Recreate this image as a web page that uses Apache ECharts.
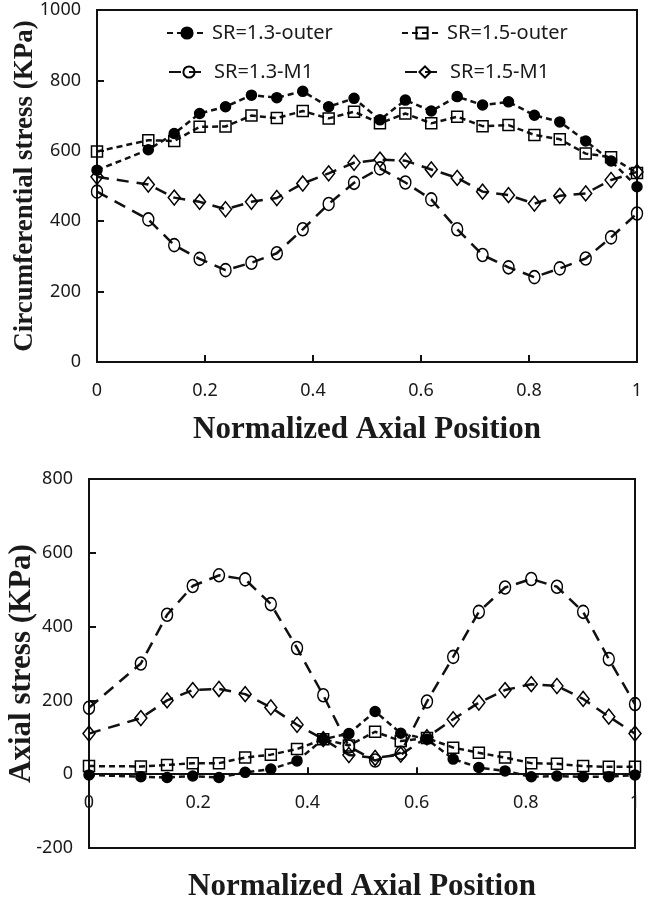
<!DOCTYPE html>
<html>
<head>
<meta charset="utf-8">
<script src="https://cdn.jsdelivr.net/npm/echarts@6/dist/echarts.min.js"></script>
<style>
  html, body { margin: 0; padding: 0; background: #fff; }
  #chart { width: 649px; height: 900px; }
</style>
</head>
<body>
<div id="chart"></div>
<script>
// Normalized axial positions (shared by all series)
var xPos = [0, 0.095, 0.143, 0.190, 0.238, 0.286, 0.333, 0.381, 0.429, 0.476, 0.524,
            0.571, 0.619, 0.667, 0.714, 0.762, 0.810, 0.857, 0.905, 0.952, 1];

var seriesNames = ['SR=1.3-outer', 'SR=1.5-outer', 'SR=1.3-M1', 'SR=1.5-M1'];

// Circumferential stress (KPa)
var circOuter13 = [545, 603, 649, 706, 725, 758, 751, 769, 725, 749, 688, 744, 713, 754, 730, 739, 701, 682, 628, 571, 498];
var circOuter15 = [598, 630, 628, 668, 669, 700, 693, 713, 692, 711, 678, 706, 678, 697, 670, 673, 645, 633, 592, 582, 537];
var circM113    = [484, 405, 332, 293, 261, 282, 309, 377, 449, 509, 550, 510, 462, 377, 304, 269, 241, 266, 294, 354, 422];
var circM115    = [526, 504, 467, 455, 434, 455, 466, 507, 536, 566, 575, 572, 547, 523, 484, 474, 450, 472, 479, 517, 540];

// Axial stress (KPa)
var axOuter13 = [-2, -7, -9, -5, -9, 5, 14, 36, 95, 110, 170, 111, 95, 41, 18, 9, -7, -5, -7, -7, -2];
var axOuter15 = [22, 21, 25, 30, 30, 45, 53, 68, 95, 78, 115, 90, 98, 72, 58, 45, 30, 28, 22, 20, 20];
var axM113    = [180, 300, 432, 510, 539, 528, 461, 342, 214, 75, 37, 58, 197, 318, 440, 506, 529, 508, 440, 312, 190];
var axM115    = [110, 152, 200, 228, 231, 217, 181, 134, 95, 52, 44, 53, 100, 149, 194, 228, 244, 239, 204, 156, 110];

// Axis settings
var xTicks = { min: 0, max: 1, interval: 0.2 };
var yTop = { min: 0, max: 1000, interval: 200 };
var yBottom = { min: -200, max: 800, interval: 200 };

function pairs(ys) { return xPos.map(function (x, i) { return [x, ys[i]]; }); }

var sansFont = '"Noto Sans", "Open Sans", sans-serif';
var serifFont = '"Liberation Serif", "DejaVu Serif", serif';
var ink = '#1a1a1a';

var grids = [
  { left: 97, right: 12, top: 10, height: 352 },
  { left: 89, right: 14, top: 479, height: 369 }
];
// the bottom chart's category axis sits on the zero line
var bottomZeroOffset = -grids[1].height * (0 - yBottom.min) / (yBottom.max - yBottom.min);

var styles = [
  { symbol: 'circle', symbolSize: 10, fill: '#000', dash: [6, 4] },
  { symbol: 'rect', symbolSize: 11, fill: 'rgba(255,255,255,0)', dash: [6, 4] },
  { symbol: 'circle', symbolSize: [11, 13], fill: 'rgba(255,255,255,0)', dash: [12, 8] },
  { symbol: 'diamond', symbolSize: [12, 15], fill: 'rgba(255,255,255,0)', dash: [12, 8] }
];

function makeSeries(idx, data, axisIdx) {
  var s = styles[idx];
  return {
    name: seriesNames[idx],
    type: 'line',
    xAxisIndex: axisIdx,
    yAxisIndex: axisIdx,
    data: pairs(data),
    symbol: s.symbol,
    symbolSize: s.symbolSize,
    showAllSymbol: true,
    itemStyle: { color: s.fill, borderColor: '#000', borderWidth: 1.5 },
    lineStyle: { color: '#111', width: 2.5, type: s.dash },
    z: 3
  };
}

function xAxisDef(gridIdx, nameGap, offset) {
  return {
    gridIndex: gridIdx, type: 'value',
    min: xTicks.min, max: xTicks.max, interval: xTicks.interval,
    offset: offset,
    axisLine: { onZero: false, lineStyle: { color: '#111', width: 2 } },
    axisTick: { inside: true, length: 7, lineStyle: { color: '#111', width: 2 } },
    axisLabel: { margin: 20, color: ink, fontFamily: sansFont, fontSize: 18,
                 formatter: function (v) { return String(+v.toFixed(1)); } },
    splitLine: { show: false },
    name: 'Normalized Axial Position', nameLocation: 'middle', nameGap: nameGap,
    nameMoveOverlap: false,
    nameTextStyle: { fontFamily: serifFont, fontWeight: 'bold', fontSize: 31, color: ink }
  };
}

function yAxisDef(gridIdx, range, name, nameSize, nameGap) {
  return {
    gridIndex: gridIdx, type: 'value',
    min: range.min, max: range.max, interval: range.interval,
    axisLine: { lineStyle: { color: '#111', width: 2 } },
    axisTick: { inside: true, length: 7, lineStyle: { color: '#111', width: 2 } },
    axisLabel: { margin: 16, color: ink, fontFamily: sansFont, fontSize: 18,
                 formatter: function (v) { return String(v); } },
    splitLine: { show: false },
    name: name, nameLocation: 'middle', nameGap: nameGap, nameRotate: 90,
    nameMoveOverlap: false,
    nameTextStyle: { fontFamily: serifFont, fontWeight: 'bold', fontSize: nameSize, color: ink }
  };
}

function legendDef(i, left, top) {
  return {
    data: [seriesNames[i]], left: left, top: top, padding: 0,
    itemWidth: 40, itemHeight: 14,
    textStyle: { fontFamily: sansFont, fontSize: 20, color: ink, lineHeight: 20 },
    selectedMode: false
  };
}

function gridDef(g) {
  return {
    left: g.left, right: g.right, top: g.top, height: g.height,
    show: true, borderColor: '#111', borderWidth: 2, backgroundColor: 'transparent',
    containLabel: false, outerBoundsMode: 'none'
  };
}

var option = {
  animation: false,
  backgroundColor: '#fff',
  grid: [gridDef(grids[0]), gridDef(grids[1])],
  legend: [
    legendDef(0, 166, 23),
    legendDef(1, 401, 23),
    legendDef(2, 168, 62),
    legendDef(3, 404, 62)
  ],
  xAxis: [xAxisDef(0, 52, 0), xAxisDef(1, 97, bottomZeroOffset)],
  yAxis: [
    yAxisDef(0, yTop, 'Circumferential stress (KPa)', 27, 58),
    yAxisDef(1, yBottom, 'Axial stress (KPa)', 31, 52)
  ],
  series: [
    makeSeries(0, circOuter13, 0),
    makeSeries(1, circOuter15, 0),
    makeSeries(2, circM113, 0),
    makeSeries(3, circM115, 0),
    makeSeries(0, axOuter13, 1),
    makeSeries(1, axOuter15, 1),
    makeSeries(2, axM113, 1),
    makeSeries(3, axM115, 1)
  ]
};

var chart = echarts.init(document.getElementById('chart'), null, { renderer: 'canvas' });
chart.setOption(option);
</script>
</body>
</html>
